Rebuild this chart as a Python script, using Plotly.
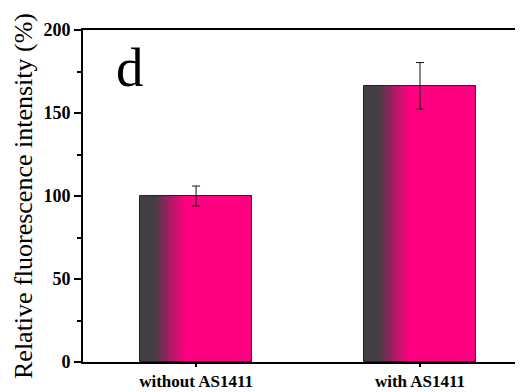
import plotly.graph_objects as go

categories = ["without AS1411", "with AS1411"]
values = [100.0, 166.4]
errors = [6.0, 14.0]
y_ticks = [0, 50, 100, 150, 200]

BAR_W = 0.5
N = 60
GRAY = (66, 62, 66)
PINK = (255, 0, 128)


def grad_color(t):
    # solid gray for first part, then linear to pink, then solid pink
    a, b = 0.12, 0.40
    if t <= a:
        f = 0.0
    elif t >= b:
        f = 1.0
    else:
        f = (t - a) / (b - a)
    c = [round(GRAY[k] + (PINK[k] - GRAY[k]) * f) for k in range(3)]
    return f"rgb({c[0]},{c[1]},{c[2]})"


fig = go.Figure()
for i in range(N):
    off = -BAR_W / 2 + i * BAR_W / N
    fig.add_trace(go.Bar(
        x=categories, y=values,
        offset=off, width=BAR_W / 2 - off,
        marker=dict(color=grad_color((i + 0.5) / N), line=dict(width=0)),
        showlegend=False, hoverinfo="skip",
    ))

# outline + error bars
fig.add_trace(go.Bar(
    x=categories, y=values, width=BAR_W,
    marker=dict(color="rgba(0,0,0,0)", line=dict(color="#222", width=1)),
    error_y=dict(type="data", array=errors, visible=True, color="#111",
                 thickness=1, width=4),
    showlegend=False,
))

fig.add_annotation(text="d", x=0.107, y=0.985, xref="paper", yref="paper",
                   xanchor="center", yanchor="top",
                   showarrow=False, font=dict(family="Liberation Serif", size=55, color="black"))

# page body has an 8px margin: shrink the figure and shift margins to compensate
fig.update_layout(
    width=515, height=384,
    margin=dict(l=75, r=0, t=22, b=30, pad=0),
    paper_bgcolor="white", plot_bgcolor="white",
    barmode="overlay", bargap=0,
    font=dict(family="Liberation Serif", color="black"),
)
fig.update_xaxes(
    range=[-0.505, 1.46], showline=True, linecolor="black", linewidth=2,
    mirror=True, ticks="outside", ticklen=3, tickwidth=1.5, tickcolor="black",
    tickfont=dict(family="Liberation Serif", size=17, weight="bold"),
    ticklabelstandoff=0, automargin=False,
    showgrid=False, zeroline=False,
)
fig.update_yaxes(
    range=[0, 200], tickvals=y_ticks, showline=True, linecolor="black", linewidth=2,
    ticks="outside", ticklen=7, tickwidth=1.5, tickcolor="black",
    minor=dict(dtick=25, ticks="outside", ticklen=4, tickwidth=1.5, tickcolor="black"),
    tickfont=dict(family="Liberation Serif", size=18, weight="bold"),
    title=dict(text="Relative fluorescence intensity (%)", standoff=3,
               font=dict(family="Liberation Serif", size=26)),
    automargin=False,
    showgrid=False, zeroline=False,
)

fig.write_html("out.html")
